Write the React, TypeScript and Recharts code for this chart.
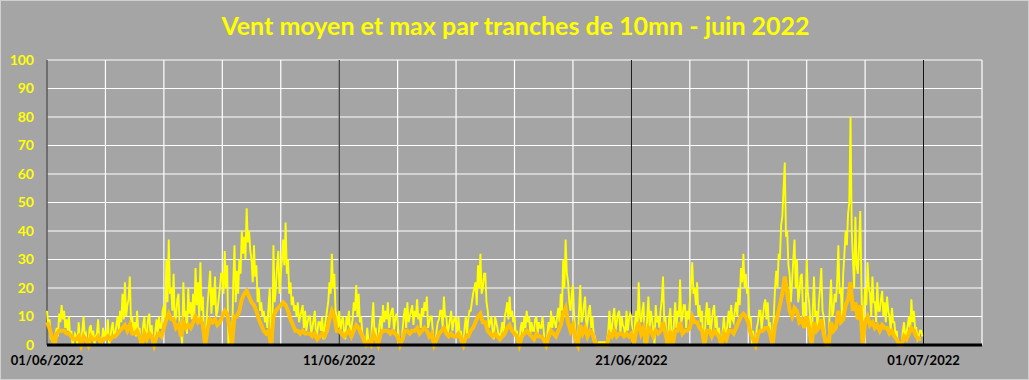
import React from "react";
import { CartesianGrid, Line, LineChart, XAxis, YAxis } from "recharts";

// rafales max, pas de 1 h (24 valeurs par jour), 1er au 10 juin
const gustA = [
  12, 7, 9, 2, 3, 0, 0, 4, 6, 3, 11, 8, 14, 9, 12, 6, 9, 5, 10, 3, 5, 0, 2, 4,
  3, 0, 8, 2, 0, 5, 10, 3, 4, 0, 0, 6, 7, 2, 5, 0, 3, 4, 9, 1, 2, 0, 6, 3,
  5, 2, 9, 0, 2, 6, 8, 3, 4, 7, 10, 5, 12, 8, 18, 9, 22, 10, 14, 16, 24, 8, 10, 4,
  8, 3, 12, 5, 6, 0, 0, 7, 10, 2, 4, 9, 11, 3, 7, 0, 0, 5, 9, 4, 10, 6, 6, 12,
  14, 8, 30, 15, 37, 18, 20, 12, 25, 8, 10, 16, 18, 6, 5, 0, 22, 10, 12, 4, 20, 11, 15, 9,
  18, 10, 27, 14, 22, 9, 29, 12, 17, 0, 0, 8, 15, 20, 26, 11, 20, 14, 24, 10, 12, 16, 20, 25,
  25, 18, 33, 20, 28, 0, 8, 0, 0, 22, 35, 15, 26, 18, 30, 25, 40, 32, 38, 30, 48, 36, 40, 33,
  30, 22, 35, 24, 28, 15, 20, 12, 15, 10, 12, 8, 10, 6, 14, 20, 0, 0, 35, 15, 20, 28, 33, 18,
  25, 30, 37, 28, 43, 25, 30, 18, 22, 14, 17, 12, 14, 10, 15, 8, 10, 12, 14, 6, 12, 5, 8, 10,
  10, 4, 6, 9, 12, 3, 4, 8, 8, 5, 10, 2, 6, 9, 12, 15, 22, 18, 32, 20, 25, 12, 10, 6,
];

// 11 au 20 juin
const gustB = [
  12, 5, 8, 10, 5, 2, 10, 7, 12, 4, 6, 9, 15, 12, 21, 10, 18, 8, 10, 4, 3, 0, 0, 6,
  2, 0, 0, 8, 15, 4, 6, 0, 0, 7, 10, 5, 14, 8, 12, 9, 15, 6, 10, 12, 13, 5, 9, 11,
  8, 2, 0, 0, 5, 10, 13, 6, 15, 8, 10, 12, 14, 7, 12, 10, 16, 9, 11, 6, 13, 10, 15, 12,
  17, 6, 8, 10, 10, 4, 0, 0, 5, 8, 9, 12, 12, 6, 17, 10, 10, 4, 6, 9, 12, 5, 8, 10,
  8, 4, 10, 3, 5, 0, 0, 6, 10, 4, 9, 12, 12, 15, 18, 20, 22, 14, 28, 20, 32, 18, 20, 25,
  25, 15, 12, 6, 8, 10, 5, 2, 10, 8, 6, 3, 3, 5, 8, 4, 10, 12, 15, 9, 17, 10, 12, 8,
  10, 4, 5, 0, 0, 6, 8, 3, 10, 6, 12, 8, 10, 4, 8, 5, 5, 9, 10, 4, 8, 6, 6, 10,
  5, 0, 0, 4, 8, 3, 12, 6, 10, 8, 6, 10, 13, 8, 18, 12, 30, 20, 37, 25, 22, 15, 12, 18,
  21, 10, 5, 0, 0, 12, 21, 8, 10, 14, 17, 5, 8, 12, 14, 6, 10, 4, 3, 0, 0, 1, 1, 1,
  1, 1, 1, 1, 1, 5, 12, 4, 6, 10, 13, 5, 8, 11, 12, 4, 10, 7, 6, 3, 12, 5, 9, 11,
];

// 21 au 30 juin
const gustC = [
  10, 4, 0, 8, 12, 5, 22, 10, 8, 12, 15, 0, 0, 10, 17, 6, 12, 9, 5, 0, 14, 8, 10, 6,
  12, 16, 24, 8, 10, 0, 0, 9, 13, 4, 0, 8, 15, 6, 12, 10, 23, 8, 10, 14, 14, 6, 12, 9,
  15, 22, 29, 18, 20, 14, 22, 10, 14, 8, 12, 0, 0, 10, 15, 7, 13, 4, 8, 12, 14, 6, 10, 3,
  6, 0, 0, 5, 10, 4, 3, 8, 12, 6, 14, 9, 8, 12, 15, 10, 20, 14, 27, 22, 32, 20, 25, 18,
  20, 8, 10, 0, 5, 0, 0, 6, 8, 12, 12, 5, 10, 14, 16, 9, 15, 6, 8, 0, 0, 10, 20, 26,
  20, 32, 30, 42, 45, 55, 64, 38, 40, 28, 25, 15, 22, 30, 37, 20, 30, 15, 18, 24, 25, 10, 15, 8,
  30, 18, 15, 8, 0, 12, 24, 10, 12, 5, 15, 20, 27, 12, 10, 4, 0, 0, 0, 14, 23, 10, 12, 18,
  15, 22, 35, 18, 20, 10, 25, 32, 40, 35, 46, 50, 80, 40, 30, 20, 45, 28, 25, 35, 47, 20, 0, 12,
  20, 14, 29, 20, 18, 10, 24, 15, 15, 8, 22, 12, 12, 16, 19, 10, 15, 8, 17, 12, 10, 5, 13, 8,
  8, 3, 5, 0, 0, 0, 0, 5, 8, 2, 4, 7, 10, 5, 16, 8, 12, 6, 6, 2, 3, 5, 5, 3,
];

// vent moyen, pas de 2 h (12 valeurs par jour)
const meanA = [
  8, 6, 3, 0, 4, 5, 5, 5, 4, 4, 3, 2,
  2, 3, 0, 3, 2, 0, 3, 2, 2, 3, 1, 2,
  2, 3, 2, 3, 3, 4, 5, 6, 7, 5, 7, 4,
  4, 5, 3, 0, 4, 2, 4, 3, 0, 3, 4, 3,
  6, 9, 11, 9, 9, 6, 7, 3, 8, 6, 7, 6,
  8, 10, 8, 9, 7, 0, 6, 9, 8, 9, 7, 8,
  10, 12, 11, 6, 0, 10, 10, 12, 16, 18, 19, 17,
  15, 14, 12, 9, 7, 5, 4, 5, 0, 10, 12, 13,
  14, 15, 14, 12, 9, 7, 5, 5, 4, 5, 4, 4,
  4, 3, 4, 2, 3, 4, 3, 5, 9, 12, 10, 5,
];

const meanB = [
  5, 4, 3, 4, 5, 3, 5, 7, 6, 4, 2, 0,
  1, 0, 4, 2, 0, 4, 5, 5, 5, 4, 5, 4,
  3, 0, 2, 5, 5, 4, 5, 5, 6, 4, 5, 6,
  5, 3, 4, 0, 2, 4, 5, 6, 4, 3, 4, 3,
  3, 4, 2, 0, 3, 3, 5, 6, 8, 10, 11, 8,
  8, 5, 4, 3, 4, 3, 2, 3, 4, 6, 7, 5,
  4, 3, 0, 3, 4, 5, 4, 3, 2, 4, 3, 3,
  2, 0, 3, 5, 4, 3, 5, 7, 11, 13, 8, 5,
  7, 2, 0, 7, 4, 6, 3, 5, 4, 1, 0, 0,
  0, 0, 0, 4, 3, 5, 3, 4, 4, 3, 4, 3,
];

const meanC = [
  4, 0, 5, 8, 4, 6, 0, 6, 5, 3, 5, 4,
  5, 8, 4, 0, 5, 0, 5, 5, 8, 4, 5, 5,
  6, 10, 8, 8, 6, 5, 0, 5, 5, 3, 5, 4,
  3, 0, 4, 2, 5, 5, 4, 6, 8, 10, 11, 10,
  8, 4, 2, 0, 4, 5, 5, 6, 6, 4, 0, 7,
  10, 14, 18, 24, 18, 12, 10, 13, 12, 8, 9, 6,
  10, 6, 0, 8, 5, 6, 9, 4, 0, 0, 8, 5,
  6, 12, 8, 9, 14, 16, 22, 12, 15, 9, 14, 0,
  8, 10, 7, 8, 6, 7, 5, 7, 6, 6, 4, 5,
  3, 2, 0, 0, 3, 2, 4, 6, 5, 3, 2, 2,
];

const dateLabels: Record<number, string> = {
  0: "01/06/2022",
  10: "11/06/2022",
  20: "21/06/2022",
  30: "01/07/2022",
};

const xTicks = [0, 2, 4, 6, 8, 10, 12, 14, 16, 18, 20, 22, 24, 26, 28, 30, 32];
const yTicks = [0, 10, 20, 30, 40, 50, 60, 70, 80, 90, 100];

const gust = [...gustA, ...gustB, ...gustC];
const mean = [...meanA, ...meanB, ...meanC];
// t en jours depuis le 01/06 ; moyenne renseignée toutes les 2 h
const data = gust.map((g, i) => ({
  t: i / 24,
  max: g,
  moy: i % 2 === 0 ? mean[i / 2] : null,
}));

export default function App() {
  return (
    <div
      style={{
        width: 1029,
        height: 380,
        background: "#a5a5a5",
        position: "relative",
        boxSizing: "border-box",
        border: "1px solid #d0d0d0",
        fontFamily: "Lato, sans-serif",
      }}
    >
      <style>{"body{margin:0}"}</style>
      <div
        style={{
          position: "absolute",
          top: 9,
          left: 0,
          width: 1029,
          textAlign: "center",
          color: "#ffff00",
          fontWeight: 700,
          fontSize: 25,
        }}
      >
        Vent moyen et max par tranches de 10mn - juin 2022
      </div>
      <LineChart
        width={1027}
        height={378}
        data={data}
        margin={{ top: 59, right: 46, bottom: 3, left: 6 }}
        style={{ position: "absolute", top: 0, left: 0 }}
      >
        <CartesianGrid stroke="#ffffff" strokeWidth={1.2} verticalValues={xTicks} horizontalValues={yTicks} />
        <CartesianGrid stroke="#000000" horizontal={false} verticalValues={[0, 10, 20, 30]} />
        <XAxis
          type="number"
          dataKey="t"
          domain={[0, 32]}
          ticks={xTicks}
          interval={0}
          height={31}
          tickSize={0}
          tickMargin={11}
          tickFormatter={(v: number) => dateLabels[v] ?? ""}
          tick={{ fill: "#000000", fontSize: 13, fontWeight: 700 }}
          axisLine={{ stroke: "#000000", strokeWidth: 3 }}
        />
        <YAxis
          type="number"
          domain={[0, 100]}
          ticks={yTicks}
          interval={0}
          width={40}
          tickSize={0}
          tickMargin={13}
          axisLine={false}
          tick={{ fill: "#ffff00", fontSize: 14, fontWeight: 700 }}
        />
        <Line
          type="linear"
          dataKey="max"
          stroke="#ffff00"
          strokeWidth={1.9}
          dot={false}
          isAnimationActive={false}
        />
        <Line
          type="linear"
          dataKey="moy"
          stroke="#ffc000"
          strokeWidth={4}
          dot={false}
          connectNulls
          isAnimationActive={false}
        />
      </LineChart>
    </div>
  );
}
